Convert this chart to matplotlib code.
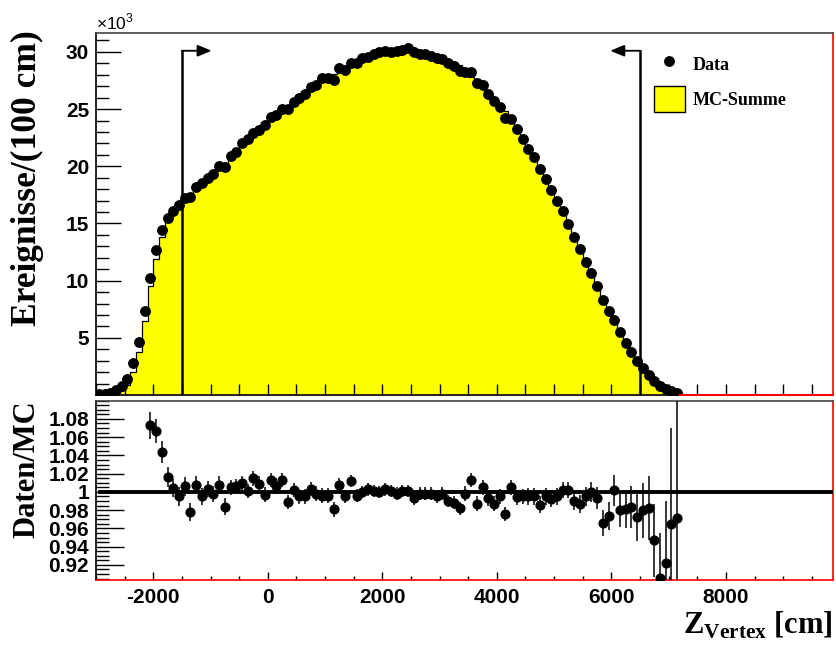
import numpy as np
import matplotlib.pyplot as plt
from matplotlib.patches import Patch
from matplotlib.lines import Line2D

plt.rcParams['font.family'] = 'Liberation Sans'
plt.rcParams['font.weight'] = 'bold'
plt.rcParams['axes.unicode_minus'] = False
plt.rcParams['mathtext.fontset'] = 'custom'
plt.rcParams['mathtext.bf'] = 'Liberation Serif:bold'
plt.rcParams['mathtext.rm'] = 'Liberation Serif:bold'

# 100 cm bins starting at -3000 cm
bin_start = -3000
bin_width = 100

# events per bin (x10^3), data
data = [0.05, 0.1, 0.2, 0.44, 0.79, 1.37, 2.77, 4.61, 7.37, 10.2,
        12.67, 14.42, 15.44, 16.08, 16.61, 17.19, 17.28, 18.15, 18.5, 18.99,
        19.32, 20.01, 19.95, 20.89, 21.26, 22.0, 22.35, 22.9, 23.2, 23.6,
        24.3, 24.5, 25.0, 25.0, 25.6, 26.0, 26.3, 26.9, 27.1, 27.7,
        27.7, 27.55, 28.55, 28.4, 29.05, 29.0, 29.45, 29.55, 29.85, 29.95,
        30.1, 30.0, 30.1, 30.2, 30.3, 29.95, 29.85, 29.8, 29.6, 29.5,
        29.35, 29.0, 28.8, 28.3, 28.2, 28.2, 27.25, 27.1, 26.35, 25.75,
        25.15, 24.25, 24.1, 23.25, 22.4, 21.5, 20.8, 19.75, 18.9, 17.9,
        17.0, 16.1, 14.95, 13.85, 12.75, 11.65, 10.7, 9.55, 8.3, 7.35,
        6.55, 5.5, 4.55, 3.75, 2.95, 2.35, 1.72, 1.2, 0.8, 0.5,
        0.33, 0.2]

# MC in the first bins, where data/MC is off scale
mc_head = [0.02, 0.04, 0.08, 0.18, 0.4, 0.9, 2.0, 3.8, 6.45]

# data/MC from bin 9 (-2050 cm) on
ratio = [1.073, 1.067, 1.044, 1.016, 1.004, 0.995, 1.006, 0.978, 1.008, 0.995,
         1.003, 0.998, 1.008, 0.984, 1.005, 1.006, 1.010, 1.001, 1.015, 1.009,
         0.997, 1.013, 1.007, 1.013, 0.989, 1.002, 0.995, 0.995, 1.003, 0.998,
         0.996, 0.996, 0.981, 1.008, 0.995, 1.012, 0.996, 1.000, 1.003, 1.001,
         1.000, 1.003, 1.001, 0.998, 1.001, 1.001, 0.993, 0.998, 0.998, 0.998,
         0.995, 0.998, 0.990, 0.988, 0.982, 0.998, 1.013, 0.987, 1.005, 0.993,
         0.987, 0.995, 0.976, 1.005, 0.994, 0.995, 0.995, 0.995, 0.986, 0.995,
         0.992, 0.995, 1.002, 1.002, 0.990, 0.987, 0.995, 1.000, 0.993, 0.966,
         0.974, 1.002, 0.980, 0.981, 0.984, 0.972, 0.980, 0.982, 0.947, 0.9055,
         0.922, 0.965, 0.971]
ratio_err = [0.015, 0.013, 0.012, 0.011, 0.010, 0.010, 0.010, 0.010, 0.009, 0.009,
             0.009, 0.009, 0.009, 0.009, 0.008, 0.008, 0.008, 0.008, 0.008, 0.008,
             0.008, 0.008, 0.008, 0.008, 0.008, 0.008, 0.008, 0.008, 0.008, 0.008,
             0.008, 0.008, 0.008, 0.007, 0.007, 0.007, 0.007, 0.007, 0.007, 0.007,
             0.007, 0.007, 0.007, 0.007, 0.007, 0.007, 0.007, 0.007, 0.007, 0.007,
             0.007, 0.007, 0.007, 0.007, 0.007, 0.008, 0.008, 0.008, 0.008, 0.008,
             0.008, 0.008, 0.008, 0.008, 0.008, 0.008, 0.009, 0.009, 0.009, 0.009,
             0.009, 0.009, 0.009, 0.009, 0.010, 0.010, 0.010, 0.011, 0.012, 0.014,
             0.0155, 0.017, 0.018, 0.020, 0.023, 0.026, 0.030, 0.035, 0.040, 0.050,
             0.068, 0.105, 0.300]
ratio_first = 9

cut_lo, cut_hi = -1500, 6500
cut_height = 30.1

data = np.array(data)
ratio = np.array(ratio)
edges = bin_start + bin_width * np.arange(len(data) + 1)
centers = edges[:-1] + bin_width / 2
mc = np.concatenate([mc_head, data[ratio_first:] / ratio])

fig = plt.figure(figsize=(8.37, 6.45), dpi=100)
ax = fig.add_axes([0.1147, 0.3876, 0.8805, 0.5612])
axr = fig.add_axes([0.1147, 0.1008, 0.8805, 0.2780])

# ---- top pad
ax.stairs(mc, edges, fill=True, facecolor='#ffff00', edgecolor='black', lw=0.9)
ax.plot(centers, data, 'o', color='black', ms=6.8, zorder=4)

for xc, tip in [(cut_lo, cut_lo + 520), (cut_hi, cut_hi - 520)]:
    ax.plot([xc, xc], [0, cut_height], color='black', lw=1.8, zorder=5)
    ax.annotate('', xy=(tip, cut_height), xytext=(xc, cut_height),
                arrowprops=dict(arrowstyle='-|>,head_length=0.85,head_width=0.35',
                                color='black', lw=1.3, shrinkA=0, shrinkB=0))
ax.plot([edges[-1], 9870], [0, 0], color='red', lw=1.5, clip_on=False, zorder=6)

ax.set_xlim(-3000, 9870)
ax.set_ylim(0, 31.65)
ax.set_xticks(np.arange(-2000, 9000, 2000))
ax.set_xticks(np.arange(-3000, 9900, 500), minor=True)
ax.set_xticklabels([])
ax.set_yticks([5, 10, 15, 20, 25, 30])
ax.set_yticks(np.arange(1, 32), minor=True)
ax.tick_params(direction='in', which='both', top=False, right=False)
ax.tick_params(axis='y', which='major', length=18, width=1, labelsize=15, pad=5)
ax.tick_params(axis='y', which='minor', length=9, width=1)
ax.tick_params(axis='x', which='both', length=8, width=1)
ax.spines['right'].set_color('red')
ax.spines['top'].set_color('#444444')
for s in ax.spines.values():
    s.set_linewidth(1.2)

handles = [Line2D([], [], marker='o', ls='none', color='black', ms=6.8),
           Patch(facecolor='#ffff00', edgecolor='black', lw=1)]
ax.legend(handles, ['Data', 'MC-Summe'], loc='upper left', bbox_to_anchor=(0.757, 0.95),
          frameon=False, borderpad=0, borderaxespad=0, handlelength=1.72, handleheight=1.85,
          labelspacing=0.5, handletextpad=0.4,
          prop={'family': 'Liberation Serif', 'weight': 'bold', 'size': 13})

fig.text(0.1147, 1 - 32 / 645, '×10$^{\\mathregular{3}}$', ha='left', va='bottom',
         fontsize=12.5, fontweight='normal')
fig.text(0.033, 1 - 30 / 645, 'Ereignisse/(100 cm)', rotation=90, ha='center', va='top',
         family='Liberation Serif', fontweight='bold', fontsize=25.5)

# ---- ratio pad
axr.errorbar(centers[ratio_first:], ratio, yerr=ratio_err, fmt='o', color='black',
             ms=6.3, elinewidth=1.1, capsize=0, zorder=4)
axr.plot([-2930, 9830], [1, 1], color='black', lw=2.8, zorder=3)
axr.set_xlim(-3000, 9870)
axr.set_ylim(0.9035, 1.1)
axr.set_xticks(np.arange(-2000, 9000, 2000))
axr.set_xticks(np.arange(-3000, 9900, 500), minor=True)
axr.set_yticks(np.arange(0.92, 1.09, 0.02))
axr.set_yticks(np.arange(0.905, 1.1, 0.005), minor=True)
axr.set_yticklabels(['%g' % round(v, 2) for v in np.arange(0.92, 1.09, 0.02)])
axr.tick_params(direction='in', which='both', top=False, right=False, labelsize=15)
axr.tick_params(axis='y', which='major', length=20, width=1, pad=5)
axr.tick_params(axis='y', which='minor', length=9, width=1)
axr.tick_params(axis='x', which='major', length=6, width=1, pad=6)
axr.tick_params(axis='x', which='minor', length=3, width=1)
axr.spines['right'].set_color('red')
axr.spines['bottom'].set_color('red')
axr.spines['top'].set_color('#444444')
for s in axr.spines.values():
    s.set_linewidth(1.2)

fig.text(0.032, 1 - 400 / 645, 'Daten/MC', rotation=90, ha='center', va='top',
         family='Liberation Serif', fontweight='bold', fontsize=22)
fig.text(0.995, 1 - 634 / 645, '$\\mathbf{Z}_{\\mathbf{Vertex}}$ [cm]', ha='right',
         va='baseline', family='Liberation Serif', fontweight='bold', fontsize=22)

fig.savefig('out.png', dpi=100)
